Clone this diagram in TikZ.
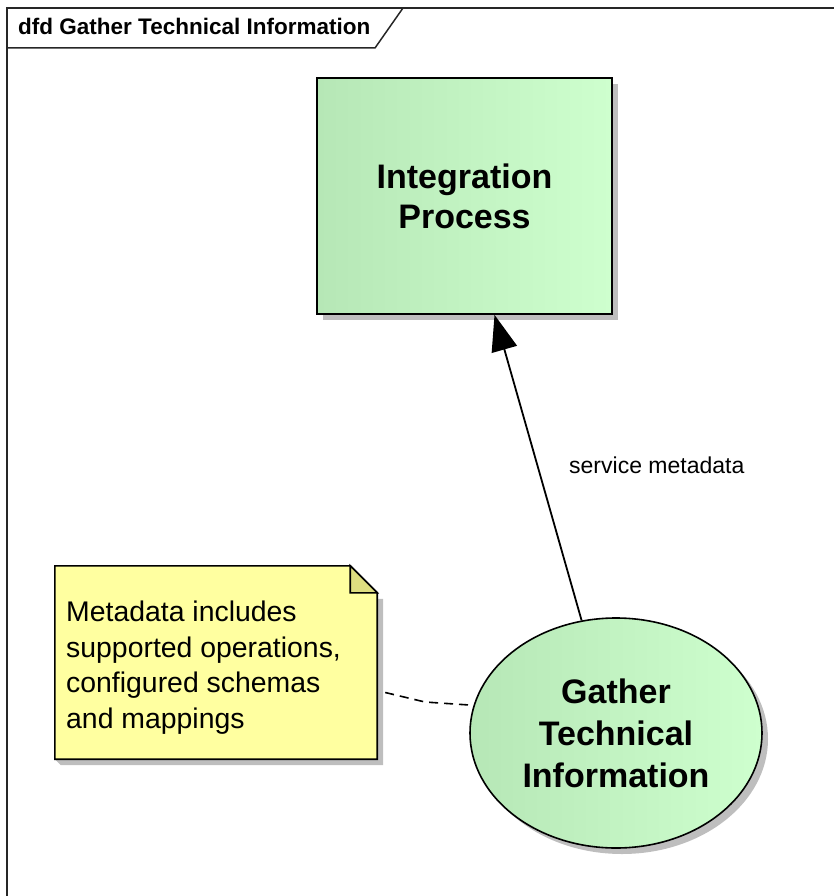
\documentclass[tikz,border=0pt]{standalone}
\usepackage{fontspec}
\setmainfont{Liberation Sans}
\usetikzlibrary{shadows,calc,arrows.meta,shapes.geometric}
\definecolor{gl}{RGB}{182,231,182}
\definecolor{gr}{RGB}{206,255,206}
\definecolor{notey}{RGB}{255,255,160}
\definecolor{notef}{RGB}{222,222,128}
\definecolor{shcol}{RGB}{190,190,190}
\tikzset{
  shd/.style={drop shadow={shadow xshift=6pt, shadow yshift=-6pt, fill=shcol, opacity=1}},
  procbox/.style={rectangle, draw=black, line width=1.6pt, minimum width=295pt, minimum height=236pt,
    inner sep=0pt, left color=gl, right color=gr, shd, align=center,
    font=\bfseries\fontsize{34}{40}\selectfont},
  procell/.style={ellipse, draw=black, line width=1.6pt, minimum width=292pt, minimum height=230pt,
    inner sep=0pt, left color=gl, right color=gr, shd, align=center,
    font=\bfseries\fontsize{34}{42}\selectfont},
  notetxt/.style={anchor=north west, inner sep=0pt, align=left, font=\fontsize{28.4}{35.5}\selectfont},
  flow/.style={line width=1.8pt, -{Triangle[length=36pt,width=26pt]}},
  anchorline/.style={line width=1.6pt, dash pattern=on 9pt off 6pt},
}
\begin{document}
\begin{tikzpicture}[x=1pt,y=-1pt]
\useasboundingbox (0,0) rectangle (834,896);
% frame
\draw[line width=1.5pt, black!85] (834,8) -- (7,8) -- (7,896);
\draw[line width=1.5pt, black!85] (7,48) -- (375,48) -- (403,8);
\node[anchor=base west, inner sep=0pt, font=\bfseries\fontsize{22.5}{26}\selectfont] (title) at (18,35) {dfd Gather Technical Information};
% process box
\node[procbox] (ip) at (464.5,196) {Integration\\Process};
% ellipse
\node[procell] (gather) at (616,733) {Gather\\Technical\\Information};
% note
\node[minimum width=322pt, minimum height=193pt, inner sep=0pt] (note) at (216,662.5) {};
\fill[shcol] ($(note.north east)+(0,33)$) -- ($(note.north east)+(6,33)$) -- ($(note.south east)+(6,6)$) -- ($(note.south west)+(6,6)$) -- (note.south west) -- (note.south east) -- cycle;
\filldraw[fill=notey, line width=1.6pt, line join=miter] (note.north west) -- ($(note.north east)+(-27,0)$) -- ($(note.north east)+(0,27)$) -- (note.south east) -- (note.south west) -- cycle;
\filldraw[fill=notef, line width=1.6pt] ($(note.north east)+(-27,0)$) -- ($(note.north east)+(-27,27)$) -- ($(note.north east)+(0,27)$) -- cycle;
\node[notetxt] (notetext) at (66,601) {Metadata includes\\supported operations,\\configured schemas\\and mappings};
% connectors
\draw[flow] (gather.107) -- ($(ip.south)+(30,0)$);
\node[anchor=base west, inner sep=0pt, font=\fontsize{23}{28}\selectfont] (lbl) at (569,473) {service metadata};
\coordinate (dstart) at ($(note.east)+(8,30)$);
\draw[anchorline] (dstart) -- (425,702) -- (gather.169);
\end{tikzpicture}
\end{document}
